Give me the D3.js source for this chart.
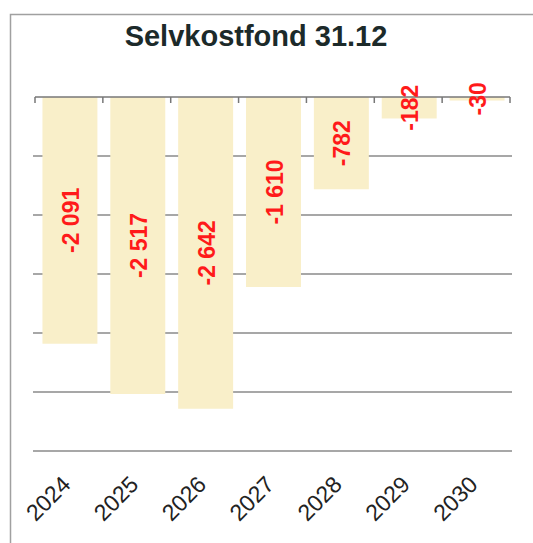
<!DOCTYPE html>
<meta charset="utf-8">
<style>
body {
  margin: 0;
  background: #fff;
}
.grid line {
  stroke: #8a8a8a;
  stroke-width: 1.5px;
}
.bar {
  fill: #f9efc9;
}
.zero {
  stroke: #777;
  stroke-width: 1.5px;
  fill: none;
}
.val {
  fill: #ff1a1a;
  font-family: "Liberation Sans", Arial, sans-serif;
  font-weight: bold;
  font-size: 23px;
  text-anchor: middle;
  dominant-baseline: central;
}
.xlab {
  fill: #222;
  font-family: "Liberation Sans", Arial, sans-serif;
  font-size: 23px;
  text-anchor: end;
}
.title {
  fill: #1c2a2a;
  font-family: "Liberation Sans", Arial, sans-serif;
  font-weight: bold;
  font-size: 29px;
  text-anchor: middle;
}
</style>
<body>
<script src="https://cdn.jsdelivr.net/npm/d3@7"></script>
<script>
var years = ["2024", "2025", "2026", "2027", "2028", "2029", "2030"];
var fund = [-2091, -2517, -2642, -1610, -782, -182, -30];
var gridTicks = [-500, -1000, -1500, -2000, -2500, -3000];

var width = 533,
    height = 543;

var nb = d3.formatLocale({decimal: ",", thousands: " ", grouping: [3], currency: ["", ""], minus: "-"});
var fmt = nb.format(",");

var svg = d3.select("body").append("svg")
    .attr("width", width)
    .attr("height", height);

// outer frame
svg.append("rect")
    .attr("x", 10.5)
    .attr("y", 14.5)
    .attr("width", 540)
    .attr("height", 560)
    .attr("fill", "none")
    .attr("stroke", "#a0a0a0")
    .attr("stroke-width", 1.5);

svg.append("text")
    .attr("class", "title")
    .attr("x", 256)
    .attr("y", 46)
    .text("Selvkostfond 31.12");

var x = d3.scaleBand()
    .domain(years)
    .range([35, 510])
    .paddingInner(0.19)
    .paddingOuter(0.095);

var y = d3.scaleLinear()
    .domain([-3000, 0])
    .range([451, 97]);

// gridlines (under the bars)
svg.append("g")
    .attr("class", "grid")
    .selectAll("line")
    .data(gridTicks)
    .join("line")
    .attr("x1", 33)
    .attr("x2", 512)
    .attr("y1", function(d) { return y(d); })
    .attr("y2", function(d) { return y(d); });

svg.append("g")
    .selectAll("rect")
    .data(fund)
    .join("rect")
    .attr("class", "bar")
    .attr("x", function(d, i) { return x(years[i]) + 1; })
    .attr("width", x.bandwidth())
    .attr("y", y(0))
    .attr("height", function(d) { return y(d) - y(0); });

// zero axis with ticks at category boundaries
var step = x.step();
var bounds = d3.range(years.length + 1).map(function(i) { return x.range()[0] + i * step; });
svg.append("line")
    .attr("class", "zero")
    .attr("x1", x.range()[0])
    .attr("x2", x.range()[1])
    .attr("y1", y(0))
    .attr("y2", y(0));
svg.append("g")
    .selectAll("line")
    .data(bounds)
    .join("line")
    .attr("class", "zero")
    .attr("x1", function(d) { return d; })
    .attr("x2", function(d) { return d; })
    .attr("y1", y(0))
    .attr("y2", y(0) + 6);

// value labels
svg.append("g")
    .selectAll("text")
    .data(fund)
    .join("text")
    .attr("class", "val")
    .attr("transform", function(d, i) {
      var cx = x(years[i]) + x.bandwidth() / 2 + 2;
      var cy = (y(0) + y(d)) / 2;
      return "translate(" + cx + "," + cy + ") rotate(-90)";
    })
    .text(function(d) { return fmt(d); });

// category labels
svg.append("g")
    .selectAll("text")
    .data(years)
    .join("text")
    .attr("class", "xlab")
    .attr("transform", function(d) {
      return "translate(" + (x(d) + x.bandwidth() / 2 + 3) + ",486) rotate(-45)";
    })
    .text(function(d) { return d; });
</script>
